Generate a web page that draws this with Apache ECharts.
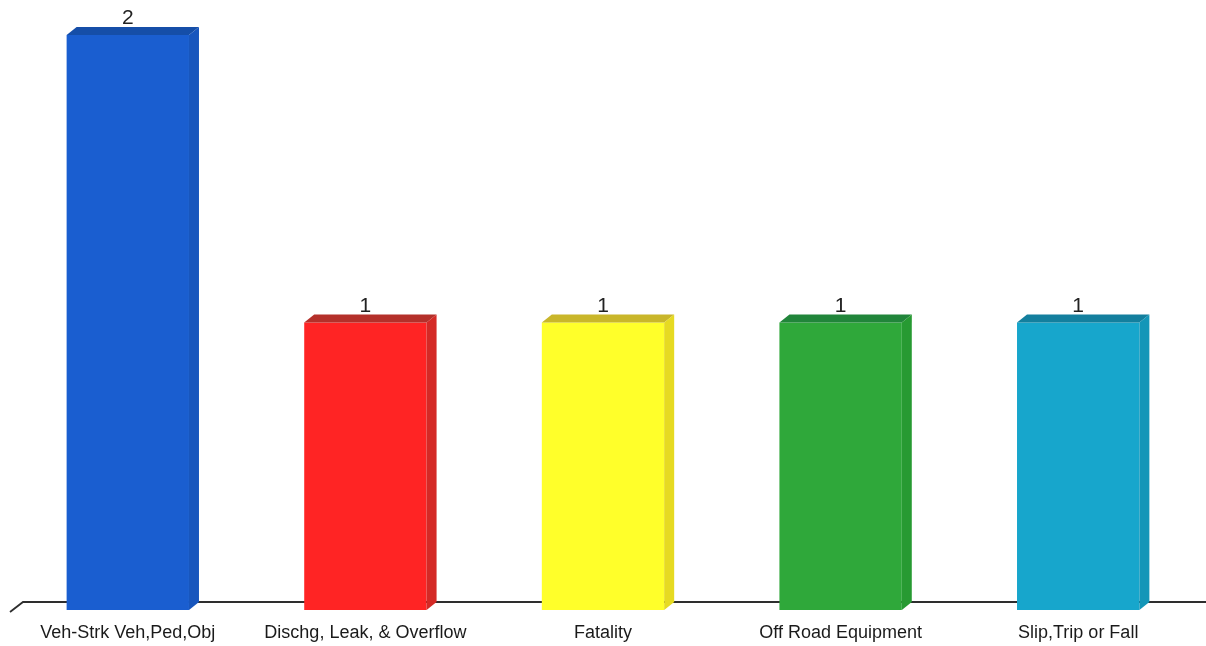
<!DOCTYPE html>
<html>
<head>
<meta charset="utf-8">
<style>
  html, body { margin: 0; padding: 0; background: #ffffff; }
  #chart { width: 1206px; height: 646px; }
</style>
<script src="https://cdn.jsdelivr.net/npm/echarts@6/dist/echarts.min.js"></script>
</head>
<body>
<div id="chart"></div>
<script>
// Incident counts by category
const categories = ['Veh-Strk Veh,Ped,Obj', 'Dischg, Leak, & Overflow', 'Fatality', 'Off Road Equipment', 'Slip,Trip or Fall'];
const counts = [2, 1, 1, 1, 1];

// Face colours for each box: front, top, side
const frontColors = ['#1a5ed0', '#ff2424', '#ffff2a', '#2fa83a', '#17a6cc'];
const topColors   = ['#154ea8', '#b4302a', '#c9b62a', '#21853a', '#137f9e'];
const sideColors  = ['#1856bd', '#d42a26', '#e6da22', '#279a32', '#1496b8'];

// Oblique depth of the boxes in pixels
const DX = 10, DY = 8;
const GRID = { left: 9, right: 9, top: 35, bottom: 36 };

const chart = echarts.init(document.getElementById('chart'));

function renderBox(params, api) {
  const idx = params.dataIndex;
  const base = api.coord([api.value(0), 0]);
  const top = api.coord([api.value(0), api.value(1)]);
  const w = api.size([1, 0])[0] * 0.515;
  const x0 = base[0] - w / 2, x1 = x0 + w;
  const yT = top[1], yB = base[1];
  return {
    type: 'group',
    children: [
      { type: 'rect', shape: { x: x0, y: yT, width: w, height: yB - yT },
        style: { fill: frontColors[idx] } },
      { type: 'polygon', shape: { points: [[x0, yT], [x0 + DX, yT - DY], [x1 + DX, yT - DY], [x1, yT]] },
        style: { fill: topColors[idx] } },
      { type: 'polygon', shape: { points: [[x1, yT], [x1 + DX, yT - DY], [x1 + DX, yB - DY], [x1, yB]] },
        style: { fill: sideColors[idx] } },
      { type: 'text', x: base[0], y: yT - DY + 2,
        style: { text: String(api.value(1)), fill: '#222', font: '21px "Liberation Sans", Arial, sans-serif',
                 align: 'center', verticalAlign: 'bottom' } }
    ]
  };
}

chart.setOption({
  animation: false,
  backgroundColor: '#ffffff',
  grid: GRID,
  xAxis: {
    type: 'category',
    data: categories,
    axisLine: { show: false },
    axisTick: { show: false },
    axisLabel: { interval: 0, hideOverlap: false, margin: 14, color: '#1a1a1a', fontSize: 18,
                 fontFamily: '"Liberation Sans", Arial, sans-serif' }
  },
  yAxis: {
    type: 'value',
    min: 0, max: 2,
    show: false,
    splitLine: { show: false }
  },
  series: [{
    type: 'custom',
    renderItem: renderBox,
    data: counts.map((v, i) => [i, v]),
    encode: { x: 0, y: 1 },
    z: 5
  }]
});

// Floor line along the back edge of the boxes, with a short oblique start
const floorY = chart.convertToPixel({ yAxisIndex: 0 }, 0);
const leftX = GRID.left + 1;
const rightX = chart.getWidth();
chart.setOption({
  graphic: [{
    type: 'polyline',
    z: 0,
    shape: { points: [[leftX, floorY + 2], [leftX + DX + 3, floorY - DY], [rightX, floorY - DY]] },
    style: { stroke: '#2e2e2e', lineWidth: 1.8, fill: null }
  }]
});
</script>
</body>
</html>
